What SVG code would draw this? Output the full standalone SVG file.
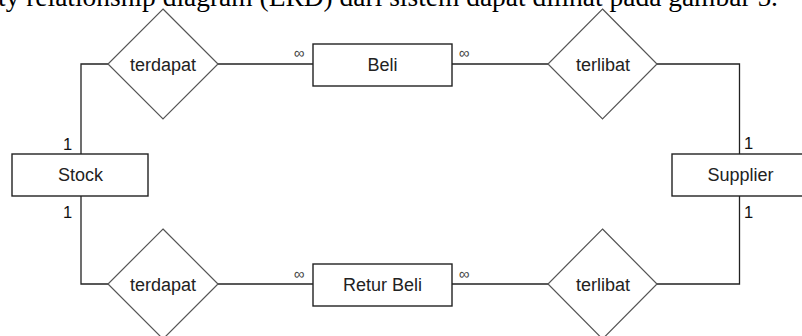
<svg xmlns="http://www.w3.org/2000/svg" width="802" height="336" viewBox="0 0 802 336">
<style>
.ent{fill:#fff;stroke:#222;stroke-width:1.4}
.rel{fill:#fff;stroke:#555;stroke-width:1.2}
.lbl{font-family:"Liberation Sans",Arial,sans-serif;font-size:18px;fill:#222;text-anchor:middle}
.card{font-family:"Liberation Sans",Arial,sans-serif;font-size:16.5px;fill:#111}
.inf{font-family:"Liberation Sans",Arial,sans-serif;font-size:15px;fill:#444;text-anchor:middle}
.conn{fill:none;stroke:#222;stroke-width:1.3}
.cap{font-family:"Liberation Serif","Times New Roman",serif;font-size:27px;fill:#000}
</style>
<rect width="802" height="336" fill="#fff"/>
<g id="connectors">
<path class="conn" d="M108,64 H81 V154"/>
<path class="conn" d="M81,196 V284 H108"/>
<path class="conn" d="M218,64 H313"/>
<path class="conn" d="M452,64 H548"/>
<path class="conn" d="M657,64 H739.5 V154"/>
<path class="conn" d="M739.5,196 V284 H657"/>
<path class="conn" d="M218,284 H313"/>
<path class="conn" d="M452,284 H548"/>
</g>
<g id="rel-terdapat-top">
<polygon class="rel" points="163,9 218,64 163,119 108,64"/>
<text class="lbl" x="163" y="70.5">terdapat</text>
</g>
<g id="rel-terlibat-top">
<polygon class="rel" points="602.5,9 657,64 602.5,119 548,64"/>
<text class="lbl" x="603" y="70.5">terlibat</text>
</g>
<g id="rel-terdapat-bottom">
<polygon class="rel" points="163,229 218,284 163,339 108,284"/>
<text class="lbl" x="163" y="290.5">terdapat</text>
</g>
<g id="rel-terlibat-bottom">
<polygon class="rel" points="602.5,229 657,284 602.5,339 548,284"/>
<text class="lbl" x="603" y="290.5">terlibat</text>
</g>
<g id="ent-beli">
<rect class="ent" x="313" y="44" width="139" height="42"/>
<text class="lbl" x="382.5" y="71">Beli</text>
</g>
<g id="ent-retur-beli">
<rect class="ent" x="313" y="264" width="139" height="42"/>
<text class="lbl" x="382.5" y="291">Retur Beli</text>
</g>
<g id="ent-stock">
<rect class="ent" x="12" y="154" width="136" height="42"/>
<text class="lbl" x="80.5" y="181">Stock</text>
</g>
<g id="ent-supplier">
<rect class="ent" x="672" y="154" width="140" height="42"/>
<text class="lbl" x="740.5" y="181">Supplier</text>
</g>
<g id="cardinalities">
<text class="card" x="63" y="149.5">1</text>
<text class="card" x="63" y="217.5">1</text>
<text class="card" x="744" y="148.5">1</text>
<text class="card" x="744" y="217.5">1</text>
<text class="inf" x="299" y="58">∞</text>
<text class="inf" x="464" y="58">∞</text>
<text class="inf" x="299" y="279">∞</text>
<text class="inf" x="464" y="279">∞</text>
</g>
<text class="cap" x="-2" y="6" textLength="780" lengthAdjust="spacingAndGlyphs">ty relationship diagram (ERD) dari sistem dapat dilihat pada gambar 5.</text>
</svg>
